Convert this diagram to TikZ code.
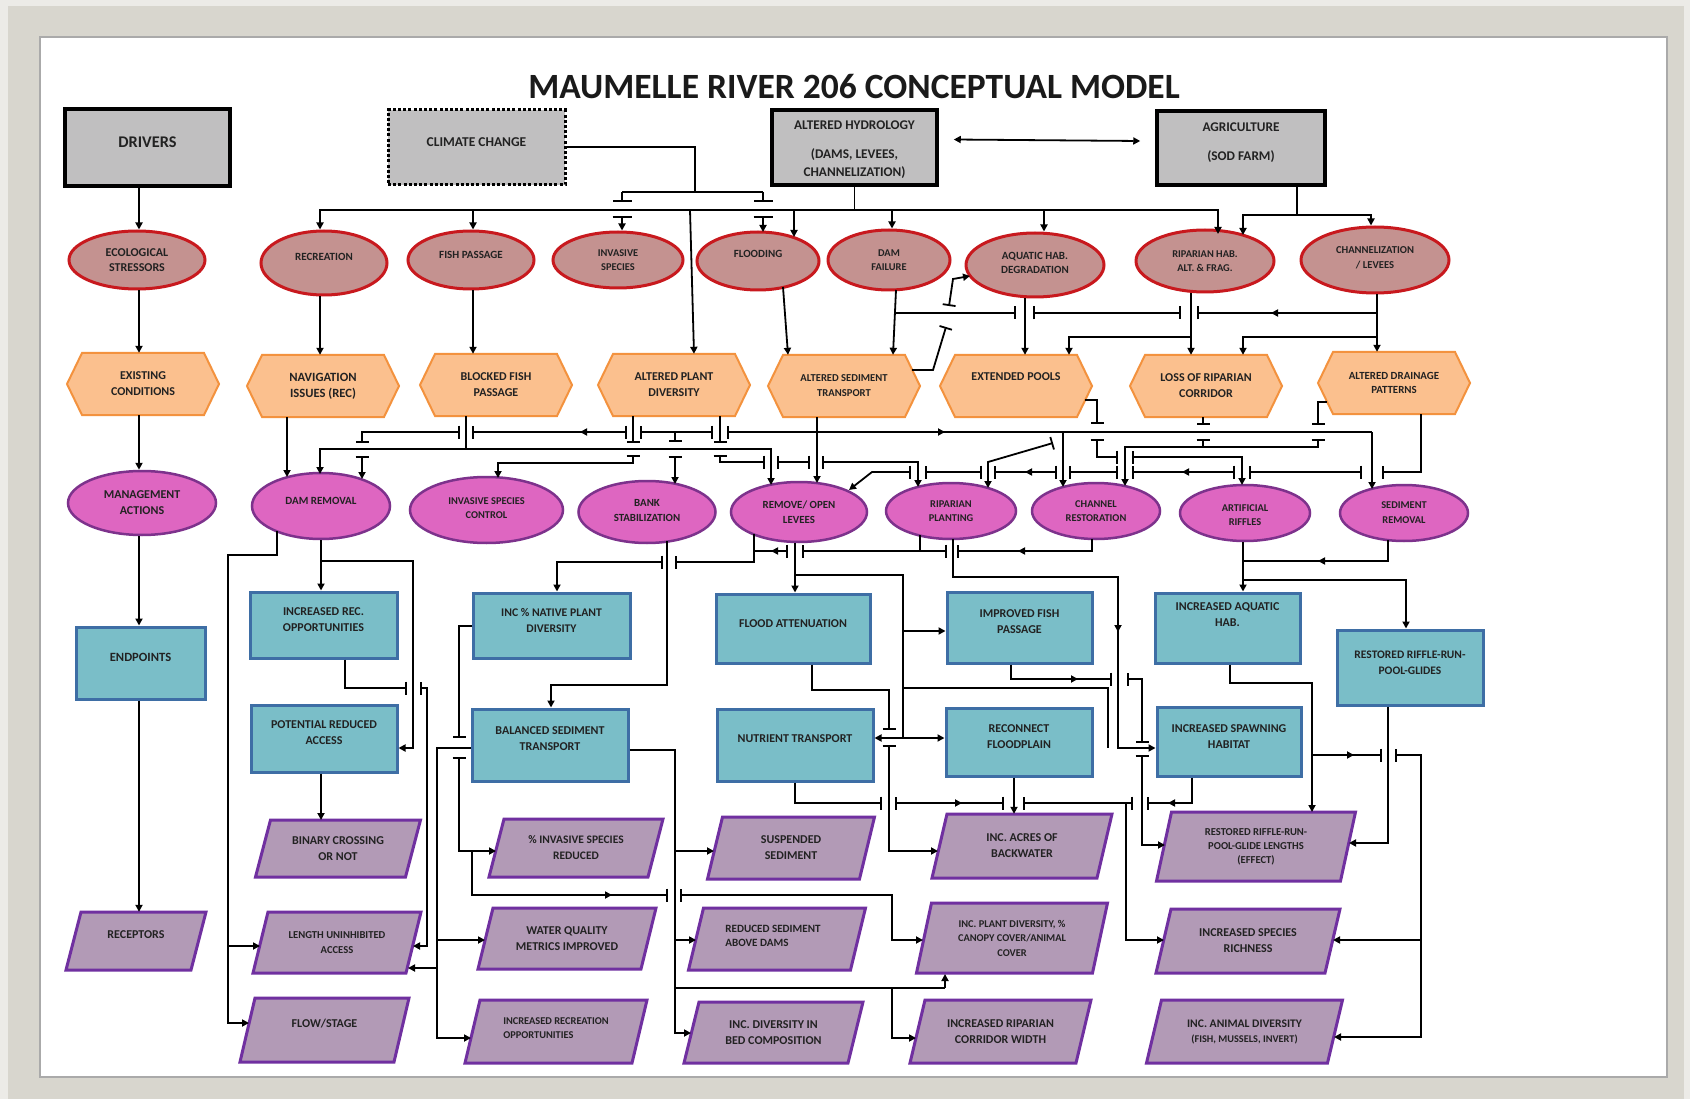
\documentclass[tikz,border=0pt]{standalone}
\usepackage{fontspec}
\setmainfont{Carlito}
\usetikzlibrary{shapes.geometric,arrows.meta}

\definecolor{bgc}{RGB}{216,214,206}
\definecolor{bglight}{RGB}{236,235,231}
\definecolor{framec}{RGB}{170,170,170}
\definecolor{titlec}{RGB}{26,26,26}
\definecolor{txtc}{RGB}{34,34,34}
\definecolor{drvfill}{RGB}{192,191,192}
\definecolor{stressfill}{RGB}{196,146,144}
\definecolor{stressred}{RGB}{200,25,30}
\definecolor{hexfill}{RGB}{251,192,142}
\definecolor{hexline}{RGB}{243,146,62}
\definecolor{mgmtfill}{RGB}{222,102,193}
\definecolor{mgmtline}{RGB}{125,50,140}
\definecolor{endfill}{RGB}{122,190,200}
\definecolor{endline}{RGB}{62,110,165}
\definecolor{recfill}{RGB}{178,154,182}
\definecolor{recline}{RGB}{112,48,160}

\tikzset{
  txt/.style={text=txtc, align=center, inner sep=0pt, font=\bfseries\fontsize{12}{16}\selectfont},
  fs/.style 2 args={font=\bfseries\fontsize{#1}{#2}\selectfont},
  drv/.style={draw=black, line width=3.5pt, fill=drvfill, inner sep=0pt},
  drvdot/.style={draw=black, line width=3pt, fill=drvfill, dash pattern=on 3pt off 2.2pt, inner sep=0pt},
  stressor/.style={ellipse, draw=stressred, line width=3pt, fill=stressfill, inner sep=0pt},
  mgmtstyle/.style={ellipse, draw=mgmtline, line width=2.5pt, fill=mgmtfill, inner sep=0pt},
  endbox/.style={draw=endline, line width=3pt, fill=endfill, inner sep=0pt},
  hexshape/.style={draw=hexline, line width=2pt, fill=hexfill},
  recshape/.style={draw=recline, line width=3pt, fill=recfill},
  ln/.style={draw=black, line width=1.8pt},
  arr/.style={ln, -{Triangle[length=7pt,width=7pt]}},
  dbl/.style={ln, {Triangle[length=7pt,width=7pt]}-{Triangle[length=7pt,width=7pt]}},
  barend/.style={ln, -{Bar[width=13pt]}},
  barstart/.style={ln, {Bar[width=13pt]}-},
  barboth/.style={ln, {Bar[width=13pt]}-{Bar[width=13pt]}},
  barto/.style={ln, {Bar[width=13pt]}-{Triangle[length=7pt,width=7pt]}},
  wbarend/.style={ln, -{Bar[width=19pt]}},
  wbarto/.style={ln, {Bar[width=19pt]}-{Triangle[length=7pt,width=7pt]}},
}

% ellipse: [text opts]{style}{name}{cx}{cy}{width}{height}{text}
\newcommand\ovalnode[8][]{%
  \node[#2, minimum width=#6pt, minimum height=#7pt] (#3) at (#4,#5) {};
  \node[txt,#1] (#3-t) at (#4,#5) {#8};}

% box: [text opts]{style}{name}{x1}{y1}{x2}{y2}{text}{text raise}
\newcommand\tbox[9][]{%
  \pgfmathsetmacro\tbW{#6-#4}\pgfmathsetmacro\tbH{#7-#5}%
  \pgfmathsetmacro\tbX{(#4+#6)/2}\pgfmathsetmacro\tbY{(#5+#7)/2}%
  \node[#2, minimum width=\tbW pt, minimum height=\tbH pt] (#3) at (\tbX,\tbY) {};
  \node[txt,#1] (#3-t) at ([yshift=#9]#3.center) {#8};}

% hexagon 152 x 62: [text opts]{name}{cx}{cy}{text}
\newcommand\hexnode[5][]{%
  \draw[hexshape] ({#3-76},#4) -- ({#3-61},{#4-31}) -- ({#3+61},{#4-31}) -- ({#3+76},#4)
     -- ({#3+61},{#4+31}) -- ({#3-61},{#4+31}) -- cycle;
  \node[minimum width=122pt, minimum height=62pt, inner sep=0pt] (#2) at (#3,#4) {};
  \node[txt,#1] (#2-t) at (#3,#4) {#5};}

% parallelogram leaning right: [text opts]{name}{cx}{cy}{width}{height}{text}
\newcommand\pgram[7][]{%
  \draw[recshape] ({#3-#5/2+7.5},{#4-#6/2}) -- ({#3+#5/2+7.5},{#4-#6/2})
     -- ({#3+#5/2-7.5},{#4+#6/2}) -- ({#3-#5/2-7.5},{#4+#6/2}) -- cycle;
  \node[minimum width=#5pt, minimum height=#6pt, inner sep=0pt] (#2) at (#3,#4) {};
  \node[txt,#1] (#2-t) at (#3,#4) {#7};}

\begin{document}
\begin{tikzpicture}[x=1pt,y=-1pt]
\useasboundingbox (0,0) rectangle (1690,1099);

% frame and panel
\fill[bglight] (0,0) rectangle (1690,1099);
\fill[bgc] (8,6) rectangle (1684,1099);
\fill[white] (40,37) rectangle (1667,1077);
\draw[framec, line width=1.2pt] (40,37) rectangle (1667,1077);

\node[font=\bfseries\fontsize{35.5}{38}\selectfont, text=titlec] (title) at (854,87) {MAUMELLE RIVER 206 CONCEPTUAL MODEL};

% drivers
\tbox[fs={16.3}{18}]{drv}{drivers}{65}{109}{230}{186}{DRIVERS}{5pt}
\tbox[fs={13.5}{16}]{drvdot}{climate}{388}{110}{565}{185}{CLIMATE CHANGE}{5pt}
\tbox[fs={13.3}{18}]{drv}{hydro}{772}{110}{937}{185}{ALTERED HYDROLOGY\\[11pt](DAMS, LEVEES,\\CHANNELIZATION)}{-2pt}
\tbox[fs={13.3}{17}]{drv}{agri}{1157}{111}{1325}{185}{AGRICULTURE\\[12pt](SOD FARM)}{5pt}

% ecological stressors
\ovalnode[fs={12}{15.5}]{stressor}{eco}{137}{260}{136}{58}{ECOLOGICAL\\STRESSORS}
\ovalnode[fs={11}{14},yshift=6pt]{stressor}{recr}{324}{263}{126}{64}{RECREATION}
\ovalnode[fs={11}{14},yshift=5pt]{stressor}{fishp}{471}{260}{126}{58}{FISH PASSAGE}
\ovalnode[fs={10.4}{14.5}]{stressor}{invsp}{618}{260}{130}{56}{INVASIVE\\SPECIES}
\ovalnode[fs={11}{14},yshift=7pt]{stressor}{flood}{758}{261}{122}{58}{FLOODING}
\ovalnode[fs={10.4}{14.5}]{stressor}{damf}{889}{260}{122}{60}{DAM\\FAILURE}
\ovalnode[fs={11}{14.5},yshift=2pt]{stressor}{aquat}{1035}{265}{138}{64}{AQUATIC HAB.\\DEGRADATION}
\ovalnode[fs={10.4}{14.5}]{stressor}{ripha}{1205}{261}{138}{62}{RIPARIAN HAB.\\ALT. \& FRAG.}
\ovalnode[fs={10.6}{14.5},yshift=2pt]{stressor}{chanl}{1375}{260}{148}{66}{CHANNELIZATION\\/ LEVEES}

% existing conditions
\hexnode[fs={12}{16}]{exist}{143}{384}{EXISTING\\CONDITIONS}
\hexnode[fs={12.6}{16}]{navig}{323}{386}{NAVIGATION\\ISSUES (REC)}
\hexnode[fs={12}{16}]{blocked}{496}{385}{BLOCKED FISH\\PASSAGE}
\hexnode[fs={12}{16}]{altplant}{674}{385}{ALTERED PLANT\\DIVERSITY}
\hexnode[fs={10.6}{15}]{altsed}{844}{386}{ALTERED SEDIMENT\\TRANSPORT}
\hexnode[fs={12}{16},yshift=9pt]{extpools}{1016}{386}{EXTENDED POOLS}
\hexnode[fs={12}{16}]{lossrip}{1206}{386}{LOSS OF RIPARIAN\\CORRIDOR}
\hexnode[fs={10.9}{14}]{altdrain}{1394}{383}{ALTERED DRAINAGE\\PATTERNS}

% management actions
\ovalnode[fs={12}{16}]{mgmtstyle}{mgmt}{142}{503}{148}{64}{MANAGEMENT\\ACTIONS}
\ovalnode[fs={11}{14},yshift=5pt]{mgmtstyle}{damrem}{321}{506}{138}{66}{DAM REMOVAL}
\ovalnode[fs={10.4}{14},yshift=2pt]{mgmtstyle}{invctl}{486.5}{510}{153}{66}{INVASIVE SPECIES\\CONTROL}
\ovalnode[fs={10.9}{15},yshift=1.5pt]{mgmtstyle}{bankst}{647}{512}{137}{62}{BANK\\STABILIZATION}
\ovalnode[fs={10.9}{14.5}]{mgmtstyle}{levees}{799}{512}{136}{60}{REMOVE/ OPEN\\LEVEES}
\ovalnode[fs={10.4}{14.5}]{mgmtstyle}{ripplant}{951}{511}{130}{56}{RIPARIAN\\PLANTING}
\ovalnode[fs={10.4}{14.5}]{mgmtstyle}{chanrest}{1096}{511}{128}{56}{CHANNEL\\RESTORATION}
\ovalnode[fs={10.4}{14.5},yshift=-2pt]{mgmtstyle}{artrif}{1245}{513}{130}{56}{ARTIFICIAL\\RIFFLES}
\ovalnode[fs={10.4}{15}]{mgmtstyle}{sedrem}{1404}{513}{128}{56}{SEDIMENT\\REMOVAL}

% endpoints
\tbox[fs={12.6}{16}]{endbox}{endp}{76}{627}{205}{699}{ENDPOINTS}{6pt}
\tbox[fs={12}{16}]{endbox}{increc}{250}{592}{397}{658}{INCREASED REC.\\OPPORTUNITIES}{5pt}
\tbox[fs={12}{16}]{endbox}{pra}{251}{705}{397}{772}{POTENTIAL REDUCED\\ACCESS}{6pt}
\tbox[fs={11.7}{16}]{endbox}{incnat}{473}{593}{630}{658}{INC \% NATIVE PLANT\\DIVERSITY}{5pt}
\tbox[fs={12}{16}]{endbox}{balsed}{472}{709}{628}{781}{BALANCED SEDIMENT\\TRANSPORT}{6pt}
\tbox[fs={12}{16}]{endbox}{floodatt}{716}{594}{870}{663}{FLOOD ATTENUATION}{5pt}
\tbox[fs={12}{16}]{endbox}{nutr}{717}{709}{873}{781}{NUTRIENT TRANSPORT}{6pt}
\tbox[fs={12}{16}]{endbox}{impfish}{947}{592}{1092}{663}{IMPROVED FISH\\PASSAGE}{6pt}
\tbox[fs={12}{16}]{endbox}{reconn}{946}{708}{1092}{776}{RECONNECT\\FLOODPLAIN}{5pt}
\tbox[fs={12}{16}]{endbox}{incaq}{1155}{593}{1300}{663}{INCREASED AQUATIC\\HAB.}{13pt}
\tbox[fs={12}{16}]{endbox}{spawn}{1157}{707}{1301}{776}{INCREASED SPAWNING\\HABITAT}{5pt}
\tbox[fs={11.5}{16}]{endbox}{rrpg}{1337}{630}{1483}{705}{RESTORED RIFFLE-RUN-\\POOL-GLIDES}{5pt}

% receptors
\pgram[fs={12}{16},yshift=6pt]{recep}{136}{941}{125}{58}{RECEPTORS}
\pgram[fs={12}{16}]{binary}{338}{848.5}{150}{57}{BINARY CROSSING\\OR NOT}
\pgram[fs={10.6}{15}]{lua}{337}{942.5}{153}{61}{LENGTH UNINHIBITED\\ACCESS}
\pgram[fs={12}{16},yshift=6pt]{flowst}{324.5}{1030}{154}{64}{FLOW/STAGE}
\pgram[fs={11.5}{16}]{invred}{576}{848}{159}{58}{\% INVASIVE SPECIES\\REDUCED}
\pgram[fs={12}{16}]{wq}{567}{938.5}{163}{61}{WATER QUALITY\\METRICS IMPROVED}
\pgram[fs={10.4}{14},yshift=3pt,align=left]{increcr}{556}{1031.5}{167}{63}{INCREASED RECREATION\\OPPORTUNITIES}
\pgram[fs={12}{16}]{susp}{791}{848}{152}{62}{SUSPENDED\\SEDIMENT}
\pgram[fs={11.1}{14.5},yshift=3pt,xshift=-4pt,align=left]{redsed}{777}{939}{162}{62}{REDUCED SEDIMENT\\ABOVE DAMS}
\pgram[fs={12}{16}]{bedcomp}{773.5}{1032.5}{164}{61}{INC. DIVERSITY IN\\BED COMPOSITION}
\pgram[fs={12}{16}]{incacres}{1022}{846}{165}{64}{INC. ACRES OF\\BACKWATER}
\pgram[fs={10.4}{14.5}]{incplant}{1012}{938}{176}{70}{INC. PLANT DIVERSITY, \%\\CANOPY COVER/ANIMAL\\COVER}
\pgram[fs={12}{16}]{ripwid}{1000.5}{1031.5}{166}{63}{INCREASED RIPARIAN\\CORRIDOR WIDTH}
\pgram[fs={10.6}{14}]{rrpgl}{1256}{846.5}{184}{69}{RESTORED RIFFLE-RUN-\\POOL-GLIDE LENGTHS\\(EFFECT)}
\pgram[fs={12}{16}]{richness}{1248}{941}{169}{64}{INCREASED SPECIES\\RICHNESS}
\pgram[fs={11.6}{15}]{animdiv}{1244.5}{1031.5}{181}{63}{INC. ANIMAL DIVERSITY\\{\fontsize{10.3}{15}\selectfont (FISH, MUSSELS, INVERT)}}

% ---------- connectors ----------
% left column
\draw[arr] (139,0 |- drivers.south) -- (139,0 |- eco.north);
\draw[arr] (139,0 |- eco.south) -- (139,0 |- exist.north);
\draw[arr] (139,0 |- exist.south) -- (139,0 |- mgmt.north);
\draw[arr] (139,0 |- mgmt.south) -- (139,0 |- endp.north);
\draw[arr] (139,0 |- endp.south) -- (139,0 |- recep.north);

% altered hydrology bus
\draw[ln] (hydro.south) -- (hydro.south |- 0,210);
\draw[arr] (hydro.south |- 0,210) -| (320,0 |- recr.north);
\draw[arr] (hydro.south |- 0,210) -| (1218,234);
\draw[arr] (473,210) -- (473,0 |- fishp.north);
\draw[arr] (794,210) -- (794,237);
\draw[arr] (892,210) -- (892,0 |- damf.north);
\draw[arr] (1044,210) -- (1044,0 |- aquat.north);
\draw[arr] (690,210) -- (694,0 |- altplant.north);

% climate change
\draw[ln] (climate.east |- 0,147) -| (695,192);
\draw[ln] (622,192) -- (763,192);
\draw[wbarend] (622,192) -- (622,202);
\draw[wbarto] (622,216) -- (622,0 |- invsp.north);
\draw[wbarend] (763,192) -- (763,202);
\draw[wbarto] (763,216) -- (763,232);

% agriculture
\draw[ln] (1297,0 |- agri.south) -- (1297,215);
\draw[arr] (1297,215) -| (1371,0 |- chanl.north);
\draw[arr] (1297,215) -| (1243,235);
\draw[dbl] ([shift={(15,-8)}]hydro.east) -- ([shift={(-15,-7)}]agri.west);

% stressors to existing conditions
\draw[arr] (recr.south -| 320,0) -- (320,0 |- navig.north);
\draw[arr] (fishp.south -| 473,0) -- (473,0 |- blocked.north);
\draw[arr] (783,287) -- (788,0 |- altsed.north);
\draw[arr] (896,290) -- (893,0 |- altsed.north);
\draw[barend] (896,313) -- (1016,313);
\draw[barboth] (1033,313) -- (1181,313);
\draw[barstart] (1197,313) -- (1377,313);
\draw[arr] (1290,313) -- (1271,313);
\draw[barend] (912,370) -- (933,370) -- (946,327);
\draw[barto] (949,306) -- (953,279) -- (970,276);
\draw[arr] (aquat.south -| 1025,0) -- (1025,0 |- extpools.north);
\draw[arr] (ripha.south -| 1191,0) -- (1191,0 |- lossrip.north);
\draw[arr] (1191,337) -| (1069,0 |- extpools.north);
\draw[arr] (chanl.south -| 1377,0) -- (1377,0 |- altdrain.north);
\draw[arr] (1377,337) -| (1243,0 |- lossrip.north);

% existing conditions to management actions
\draw[arr] (navig.south -| 287,0) -- (287,477);
\draw[ln] (blocked.south -| 466,0) -- (466,449);
\draw[arr] (466,449) -| (320,474);
\draw[arr] (466,449) -| (771,485);
\draw[barboth] (460,432) -| (362,443);
\draw[barto] (362,456) -- (362,479);
\draw[barboth] (472,432) -- (627,432);
\draw[arr] (595,432) -- (580,432);
\draw[barboth] (640,432) -- (713,432);
\draw[barend] (675,432) -- (675,442);
\draw[barto] (675,456) -- (675,484);
\draw[barstart] (727,432) -- (1372,432);
\draw[arr] (1372,432) -- (1372,489);
\draw[arr] (930,432) -- (945,432);
\draw[arr] (1063,432) -- (1063,487);
\draw[arr] (altsed.south -| 817,0) -- (817,483);
\draw[barend] (altplant.south -| 633,0) -- (633,443);
\draw[barto] (633,455) |- (498,463) -- (498,478);
\draw[barend] (altplant.south -| 720,0) -- (720,443);
\draw[barboth] (720,455) |- (765,462);
\draw[barboth] (777,462) -- (810,462);
\draw[barto] (822,462) -- (918,462) -- (918,487);
\draw[barend] (altdrain.south -| 1421,0) |- (1382,472);
\draw[barboth] (1362,472) -- (1249,472);
\draw[barboth] (1235,472) -- (1132,472);
\draw[barboth] (1118,472) -- (1069,472);
\draw[barboth] (1057,472) -- (994,472);
\draw[barboth] (982,472) -- (925,472);
\draw[barto] (911,472) -- (872,472) -- (849,490);
\draw[arr] (1195,472) -- (1182,472);
\draw[arr] (1038,472) -- (1025,472);
\draw[barend] (lossrip.south -| 1203,0) -- (1203,425);
\draw[barstart] (1203,439) -- (1203,447);
\draw[barend] (1327,402) -- (1318,402) -- (1318,425);
\draw[barto] (1318,439) |- (1125,447) -- (1125,486);
\draw[barend] (1085,400) -| (1097,424);
\draw[barboth] (1097,439) |- (1118,457);
\draw[barto] (1132,457) -| (1242,485);
\draw[barto] (1053,443) -- (988,462) -- (988,488);

% management actions to endpoints and receptors
\draw[arr] (277,531) |- (228,555) |- (249,1023);
\draw[arr] (228,946) -- (260,946);
\draw[arr] (damrem.south) -- (321,0 |- increc.north);
\draw[arr] (321,561) -| (413,748) -- (pra.east |- 0,748);
\draw[barend] (345,0 |- increc.south) |- (407,688);
\draw[barto] (420,688) -| (427,946) -- (413,946);
\draw[arr] (pra.south -| 321,0) -- (321,820);
\draw[arr] (balsed.west |- 0,748) -| (437,1038) -- (471,1038);
\draw[arr] (437,940) -- (485,940);
\draw[arr] (437,968) -- (408,968);
\draw[barend] (incnat.west |- 0,626) -| (459,738);
\draw[barto] (459,757) |- (496,851);
\draw[barend] (472,851) |- (668,895);
\draw[arr] (600,895) -- (612,895);
\draw[barto] (680,895) -| (892,940) -- (923,940);
\draw[arr] (667,541) |- (551,685) -- (551,0 |- balsed.north);
\draw[barend] (754,534) |- (675,562);
\draw[barto] (663,562) -| (557,0 |- incnat.north);
\draw[barend] (1092,539) |- (957,551);
\draw[barboth] (947,551) -- (802,551);
\draw[barstart] (788,551) -- (754,551);
\draw[arr] (1030,551) -- (1018,551);
\draw[arr] (783,551) -- (771,551);
\draw[ln] (920,535) -- (920,551);
\draw[arr] (953,539) |- (1118,577) |- (spawn.west |- 0,748);
\draw[arr] (1118,620) -- (1118,632);
\draw[arr] (levees.south -| 795,0) -- (795,0 |- floodatt.north);
\draw[ln] (795,575) -| (903,738);
\draw[arr] (903,631) -- (impfish.west |- 0,631);
\draw[arr] (903,738) -- (reconn.west |- 0,738);
\draw[arr] (903,738) -- (nutr.east |- 0,738);
\draw[ln] (903,688) -| (1108,748);
\draw[barend] (812,0 |- floodatt.south) |- (889,690) -- (889,730);
\draw[barto] (889,745) |- (938,851);
\draw[barend] (795,0 |- nutr.south) |- (882,803);
\draw[barboth] (895,803) -- (1004,803);
\draw[arr] (950,803) -- (962,803);
\draw[barstart] (1023,803) -- (1126,803);
\draw[arr] (1014,0 |- reconn.south) -- (1014,0 |- incacres.north);
\draw[barend] (1011,0 |- impfish.south) |- (1112,679);
\draw[arr] (1066,679) -- (1078,679);
\draw[barboth] (1127,679) -| (1142,743);
\draw[barto] (1142,755) |- (1165,845);
\draw[barend] (1192,0 |- spawn.south) |- (1147,803);
\draw[barto] (1133,803) -| (1126,940) -- (1164,940);
\draw[arr] (1180,803) -- (1168,803);
\draw[arr] (1230,0 |- incaq.south) |- (1312,683) -- (1312,812);
\draw[barend] (1312,755) -- (1382,755);
\draw[arr] (1342,755) -- (1354,755);
\draw[barto] (1395,755) -| (1421,1037) -- (1334,1037);
\draw[arr] (1421,940) -- (1333,940);
\draw[arr] (1388,0 |- rrpg.south) |- (1349,843);
\draw[arr] (artrif.south -| 1243,0) -- (1243,0 |- incaq.north);
\draw[ln] (1388,540) |- (1243,561);
\draw[arr] (1330,561) -- (1318,561);
\draw[arr] (1243,580) -| (1406,0 |- rrpg.north);
\draw[arr] (balsed.east |- 0,750) -| (675,1033) -- (691,1033);
\draw[arr] (675,851) -- (714,851);
\draw[arr] (675,940) -- (696,940);
\draw[ln] (675,988) -- (945,988);
\draw[arr] (945,988) -- (945,974);
\draw[arr] (892,988) |- (916,1038);
\end{tikzpicture}
\end{document}
